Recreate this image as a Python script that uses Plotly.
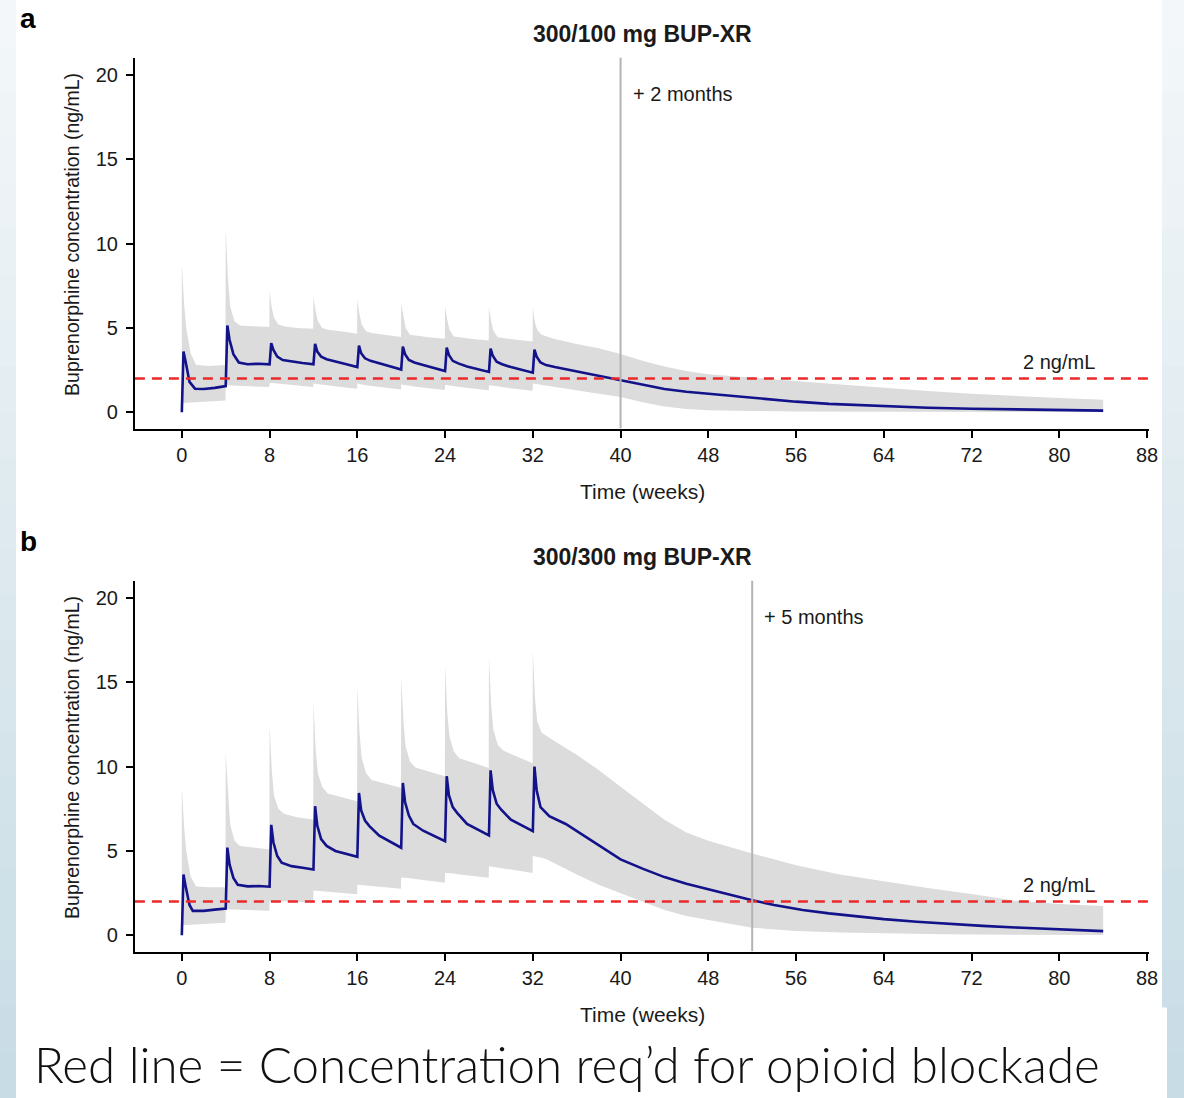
import plotly.graph_objects as go

# ---------------- data ----------------
x_ticks = [0, 8, 16, 24, 32, 40, 48, 56, 64, 72, 80, 88]
y_ticks = [0, 5, 10, 15, 20]

band_weeks = [
    0, 0.04, 0.2, 0.4, 0.8, 1.3, 2.5, 3.98,
    4, 4.04, 4.2, 4.4, 4.8, 5.3, 6.5, 7.98,
    8, 8.04, 8.2, 8.4, 8.8, 9.3, 10.5, 11.98,
    12, 12.04, 12.2, 12.4, 12.8, 13.3, 14.5, 15.98,
    16, 16.04, 16.2, 16.4, 16.8, 17.3, 18.5, 19.98,
    20, 20.04, 20.2, 20.4, 20.8, 21.3, 22.5, 23.98,
    24, 24.04, 24.2, 24.4, 24.8, 25.3, 26.5, 27.98,
    28, 28.04, 28.2, 28.4, 28.8, 29.3, 30.5, 31.98,
    32, 32.04, 32.2, 32.4, 32.8, 33.3, 34, 36, 38, 40, 42, 44, 46, 48,
    52, 56, 60, 64, 68, 72, 76, 80, 84,
]

a_upper = [
    8.6, 8.4, 6.5, 5.0, 3.5, 2.8, 2.75, 2.8,
    10.8, 10.4, 8.0, 6.3, 5.4, 5.15, 5.1, 5.05,
    7.2, 7.0, 6.2, 5.6, 5.2, 5.1, 5.0, 4.95,
    6.9, 6.7, 6.0, 5.4, 5.0, 4.9, 4.8, 4.66,
    6.7, 6.5, 5.8, 5.2, 4.8, 4.7, 4.6, 4.46,
    6.45, 6.3, 5.6, 5.0, 4.6, 4.55, 4.45, 4.36,
    6.3, 6.1, 5.5, 4.9, 4.5, 4.45, 4.35, 4.26,
    6.25, 6.05, 5.4, 4.85, 4.45, 4.4, 4.3, 4.2,
    6.2, 6.0, 5.3, 4.9, 4.6, 4.5, 4.35, 4.05, 3.8, 3.45, 3.05, 2.72, 2.45, 2.25,
    2.05, 1.85, 1.62, 1.42, 1.26, 1.1, 0.96, 0.85, 0.75,
]
a_lower = [
    0.55, 0.55, 0.58, 0.6, 0.6, 0.62, 0.65, 0.7,
    1.6, 1.6, 1.6, 1.6, 1.6, 1.6, 1.55, 1.5,
    1.75, 1.75, 1.75, 1.72, 1.7, 1.65, 1.6, 1.5,
    1.7, 1.7, 1.7, 1.68, 1.65, 1.6, 1.5, 1.4,
    1.7, 1.7, 1.7, 1.65, 1.6, 1.55, 1.45, 1.35,
    1.65, 1.65, 1.65, 1.62, 1.58, 1.52, 1.42, 1.32,
    1.62, 1.62, 1.62, 1.6, 1.56, 1.5, 1.4, 1.3,
    1.6, 1.6, 1.6, 1.58, 1.54, 1.48, 1.38, 1.28,
    1.7, 1.7, 1.7, 1.68, 1.64, 1.6, 1.5, 1.3, 1.1, 0.9, 0.6, 0.35, 0.2, 0.12,
    0.08, 0.05, 0.04, 0.03, 0.03, 0.02, 0.02, 0.02, 0.02,
]

b_upper = [
    8.6, 8.4, 6.5, 5.0, 3.5, 2.9, 2.85, 2.85,
    10.8, 10.4, 8.2, 6.6, 5.6, 5.3, 5.2, 5.1,
    12.5, 12.0, 9.8, 8.3, 7.5, 7.2, 7.0, 6.86,
    13.8, 13.3, 11.0, 9.6, 8.8, 8.4, 8.2, 7.95,
    14.75, 14.2, 12.0, 10.5, 9.6, 9.2, 9.0, 8.75,
    15.4, 14.9, 12.7, 11.2, 10.3, 9.95, 9.7, 9.43,
    16.0, 15.5, 13.2, 11.8, 10.9, 10.5, 10.25, 9.92,
    16.5, 16.0, 13.7, 12.2, 11.3, 10.95, 10.6, 10.2,
    16.9, 16.4, 14.0, 12.7, 12.0, 11.8, 11.5, 10.7, 9.8, 8.8, 7.8, 6.85, 6.1, 5.6,
    4.85, 4.15, 3.6, 3.2, 2.8, 2.45, 2.05, 1.85, 1.74,
]
b_lower = [
    0.6, 0.6, 0.62, 0.63, 0.65, 0.67, 0.7, 0.75,
    1.55, 1.55, 1.55, 1.55, 1.54, 1.52, 1.5, 1.45,
    2.05, 2.05, 2.05, 2.04, 2.03, 2.02, 2.0, 1.95,
    2.65, 2.65, 2.65, 2.63, 2.62, 2.58, 2.5, 2.43,
    3.0, 3.0, 3.0, 3.0, 2.98, 2.95, 2.85, 2.76,
    3.42, 3.42, 3.42, 3.4, 3.38, 3.33, 3.22, 3.12,
    3.7, 3.7, 3.7, 3.68, 3.66, 3.6, 3.5, 3.41,
    4.1, 4.1, 4.1, 4.08, 4.05, 3.98, 3.85, 3.7,
    4.7, 4.7, 4.7, 4.65, 4.6, 4.5, 4.3, 3.6, 3.0, 2.5, 2.0, 1.5, 1.15, 0.9,
    0.45, 0.26, 0.16, 0.1, 0.07, 0.05, 0.03, 0.02, 0.02,
]

a_med_weeks = [
    0, 0.15, 0.35, 0.7, 1.2, 2, 3,
    4, 4.15, 4.35, 4.7, 5.2, 6, 7,
    8, 8.15, 8.35, 8.7, 9.2, 10, 11,
    12, 12.15, 12.35, 12.7, 13.2, 14, 15,
    16, 16.15, 16.35, 16.7, 17.2, 18, 19,
    20, 20.15, 20.35, 20.7, 21.2, 22, 23,
    24, 24.15, 24.35, 24.7, 25.2, 26, 27,
    28, 28.15, 28.35, 28.7, 29.2, 30, 31,
    32, 32.15, 32.35, 32.7, 33.2, 34, 36, 38, 40, 42, 44, 46, 48, 50, 53,
    56, 59, 62, 65, 68, 72, 76, 80, 84,
]
a_med_conc = [
    0.0, 3.6, 3.0, 1.8, 1.4, 1.38, 1.45,
    1.55, 5.15, 4.3, 3.45, 2.95, 2.85, 2.88,
    2.84, 4.1, 3.7, 3.3, 3.1, 3.0, 2.92,
    2.84, 4.06, 3.6, 3.3, 3.15, 3.0, 2.85,
    2.68, 3.96, 3.5, 3.2, 3.05, 2.9, 2.72,
    2.54, 3.9, 3.45, 3.1, 2.95, 2.8, 2.62,
    2.45, 3.83, 3.4, 3.05, 2.9, 2.72, 2.55,
    2.39, 3.77, 3.35, 3.0, 2.85, 2.68, 2.5,
    2.35, 3.71, 3.3, 2.95, 2.8, 2.68, 2.42, 2.15, 1.9, 1.6, 1.38, 1.22, 1.1, 0.97, 0.78,
    0.63, 0.5, 0.41, 0.33, 0.27, 0.21, 0.16, 0.13, 0.1,
]

b_med_weeks = [
    0, 0.15, 0.35, 0.7, 1.0, 2, 3,
    4, 4.15, 4.35, 4.7, 5.1, 6, 7,
    8, 8.15, 8.35, 8.7, 9.1, 10, 11,
    12, 12.15, 12.35, 12.7, 13.2, 14, 15,
    16, 16.15, 16.35, 16.7, 17.1, 18, 19,
    20, 20.15, 20.35, 20.7, 21.1, 22, 23,
    24, 24.15, 24.35, 24.7, 25.1, 26, 27,
    28, 28.15, 28.35, 28.7, 29.1, 30, 31,
    32, 32.15, 32.35, 32.7, 33.5, 35, 36.3, 38, 40, 42, 44, 46, 48, 50, 52,
    54, 56.6, 59, 61, 64, 67, 70, 73, 76, 80, 84,
]
b_med_conc = [
    0.0, 3.6, 2.9, 1.8, 1.45, 1.45, 1.52,
    1.58, 5.2, 4.2, 3.4, 3.0, 2.9, 2.92,
    2.88, 6.55, 5.5, 4.7, 4.3, 4.1, 4.0,
    3.9, 7.65, 6.5, 5.7, 5.3, 5.0, 4.82,
    4.65, 8.44, 7.4, 6.8, 6.47, 5.9, 5.55,
    5.19, 9.03, 7.9, 7.1, 6.6, 6.2, 5.9,
    5.58, 9.43, 8.3, 7.6, 7.26, 6.6, 6.25,
    5.92, 9.78, 8.6, 7.8, 7.46, 6.85, 6.5,
    6.17, 10.0, 8.6, 7.6, 7.06, 6.6, 6.05, 5.3, 4.5, 3.95, 3.45, 3.05, 2.72, 2.4, 2.08,
    1.8, 1.5, 1.3, 1.15, 0.96, 0.8, 0.67, 0.56, 0.46, 0.35, 0.25,
]

threshold = 2.0
a_extra_week = 40   # "+ 2 months"
b_extra_week = 52   # "+ 5 months"

panel_titles = ["300/100 mg BUP-XR", "300/300 mg BUP-XR"]
panel_letters = ["a", "b"]
extra_labels = ["+ 2 months", "+ 5 months"]

# ---------------- figure ----------------
W, H = 1184, 1098
WEFF = 1176.0  # effective horizontal extent observed in the rendered page


def fx(p):
    return p / WEFF


def fy(p):
    return 1 - p / H


BAND = "#dcdcdc"
NAVY = "#12128a"
RED = "#ea2a2a"
VLINE = "#b4b4b4"
FONT = "Liberation Sans, Arial, sans-serif"
TXT = "#1a1a1a"

fig = go.Figure()

panels = [
    dict(upper=a_upper, lower=a_lower, mw=a_med_weeks, mc=a_med_conc,
         extra=a_extra_week, xa="x", ya="y"),
    dict(upper=b_upper, lower=b_lower, mw=b_med_weeks, mc=b_med_conc,
         extra=b_extra_week, xa="x2", ya="y2"),
]

for p in panels:
    fig.add_trace(go.Scatter(
        x=band_weeks + band_weeks[::-1],
        y=p["upper"] + p["lower"][::-1],
        fill="toself", fillcolor=BAND, line=dict(width=0),
        mode="lines", hoverinfo="skip", showlegend=False,
        xaxis=p["xa"], yaxis=p["ya"]))
    fig.add_trace(go.Scatter(
        x=p["mw"], y=p["mc"], mode="lines",
        line=dict(color=NAVY, width=2.6),
        showlegend=False, xaxis=p["xa"], yaxis=p["ya"]))
    fig.add_trace(go.Scatter(
        x=[-4.28, 88.18], y=[threshold, threshold], mode="lines",
        line=dict(color=RED, width=2.4, dash="10px,7px"),
        showlegend=False, xaxis=p["xa"], yaxis=p["ya"]))
    fig.add_trace(go.Scatter(
        x=[p["extra"], p["extra"]], y=[-0.96, 21.03], mode="lines",
        line=dict(color=VLINE, width=2),
        showlegend=False, xaxis=p["xa"], yaxis=p["ya"]))

# panel geometry (pixels)
pan = [dict(top=57.5, bottom=428.5), dict(top=580.5, bottom=951.5)]
axis_common_x = dict(
    range=[-4.28, 88.18], tickmode="array", tickvals=x_ticks,
    ticks="outside", ticklen=7, tickwidth=2, tickcolor="black",
    showline=True, linewidth=2, linecolor="black",
    showgrid=False, zeroline=False,
    tickfont=dict(family=FONT, size=20, color=TXT),
    domain=[fx(135), fx(1150)],
)
axis_common_y = dict(
    range=[-0.96, 21.03], tickmode="array", tickvals=y_ticks,
    ticks="outside", ticklen=7, tickwidth=2, tickcolor="black",
    showline=True, linewidth=2, linecolor="black",
    showgrid=False, zeroline=False,
    tickfont=dict(family=FONT, size=20, color=TXT),
    ticklabelstandoff=4,
)

fig.update_layout(
    xaxis=dict(axis_common_x, anchor="y"),
    yaxis=dict(axis_common_y, anchor="x",
               domain=[fy(pan[0]["bottom"]), fy(pan[0]["top"])]),
    xaxis2=dict(axis_common_x, anchor="y2"),
    yaxis2=dict(axis_common_y, anchor="x2",
                domain=[fy(pan[1]["bottom"]), fy(pan[1]["top"])]),
)

# background strips (light blue gradient at left / right edges)
shapes = []
n = 24
c0 = (243, 247, 249)
c1 = (200, 220, 229)
for i in range(n):
    t = i / (n - 1)
    col = "rgb(%d,%d,%d)" % tuple(round(c0[k] + (c1[k] - c0[k]) * t) for k in range(3))
    y0 = H * i / n
    y1 = H * (i + 1) / n + 1
    shapes.append(dict(type="rect", xref="paper", yref="paper",
                       x0=0, x1=fx(16), y0=fy(y1), y1=fy(y0),
                       fillcolor=col, line=dict(width=0), layer="below"))
    right_edge = 1163 if y1 <= 1028 else 1168
    shapes.append(dict(type="rect", xref="paper", yref="paper",
                       x0=fx(right_edge), x1=fx(1200), y0=fy(y1), y1=fy(y0),
                       fillcolor=col, line=dict(width=0), layer="below"))
shapes.append(dict(type="rect", xref="paper", yref="paper",
                   x0=fx(16), x1=fx(1168), y0=0, y1=fy(1028),
                   fillcolor="white", line=dict(width=0), layer="below"))
fig.update_layout(shapes=shapes)

ann = []
offset = 523.0
for i in range(2):
    dy = offset * i
    ann.append(dict(text="<b>%s</b>" % panel_letters[i], x=fx(18), y=fy(18 + dy),
                    xref="paper", yref="paper", xanchor="left", yanchor="middle",
                    showarrow=False, font=dict(family=FONT, size=28, color="black")))
    ann.append(dict(text="<b>%s</b>" % panel_titles[i], x=fx(643), y=fy(33.5 + dy),
                    xref="paper", yref="paper", xanchor="center", yanchor="middle",
                    showarrow=False, font=dict(family=FONT, size=23, color=TXT)))
    ann.append(dict(text="Time (weeks)", x=fx(643), y=fy(491 + dy),
                    xref="paper", yref="paper", xanchor="center", yanchor="middle",
                    showarrow=False, font=dict(family=FONT, size=21, color=TXT)))
    ann.append(dict(text="Buprenorphine concentration (ng/mL)", x=fx(72), y=fy(234 + dy),
                    xref="paper", yref="paper", xanchor="center", yanchor="middle",
                    textangle=-90, showarrow=False,
                    font=dict(family=FONT, size=19.5, color=TXT)))
    xa = "x" if i == 0 else "x2"
    extra = a_extra_week if i == 0 else b_extra_week
    ann.append(dict(text=extra_labels[i], x=extra, y=fy(94 + dy),
                    xref=xa, yref="paper", xanchor="left", yanchor="middle",
                    xshift=10, showarrow=False,
                    font=dict(family=FONT, size=20, color=TXT)))
    ann.append(dict(text="2 ng/mL", x=80, y=fy(362 + dy),
                    xref=xa, yref="paper", xanchor="center", yanchor="middle",
                    showarrow=False, font=dict(family=FONT, size=20, color=TXT)))

ann.append(dict(text="Red line = Concentration req\u2019d for opioid blockade",
                x=fx(32), y=fy(1064), xref="paper", yref="paper",
                xanchor="left", yanchor="middle", showarrow=False,
                font=dict(family="Lato, sans-serif", size=49.3, weight=300,
                          color="#111111")))
fig.update_layout(annotations=ann)

fig.update_layout(
    width=W, height=H, autosize=False, margin=dict(l=0, r=0, t=0, b=0),
    paper_bgcolor="white", plot_bgcolor="rgba(0,0,0,0)",
    showlegend=False,
)

fig.write_html(
    "out.html",
    config={"responsive": False, "displayModeBar": False},
    post_script=("document.body.style.margin='0';"
                 "document.body.style.overflow='hidden';"
                 "document.body.style.background='rgb(214,229,235)';"),
)
